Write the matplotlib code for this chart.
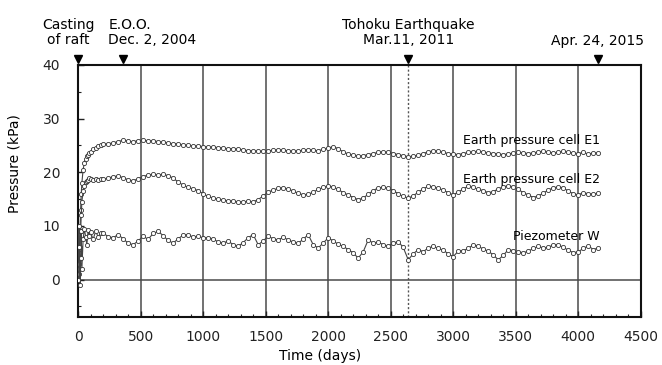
import matplotlib
matplotlib.use("Agg")
import matplotlib.pyplot as plt
import matplotlib.transforms as mtransforms
from matplotlib.ticker import MultipleLocator

plt.rcParams["font.family"] = ["DejaVu Sans"]

# elapsed days since casting of the raft
DAYS = [0, 5, 10, 15, 20, 25, 30, 40, 50, 60, 70, 80, 90, 100, 120, 140, 160, 180, 200,
        240, 280, 320, 360, 400, 440, 480, 520, 560, 600,
        640, 680, 720, 760, 800, 840, 880, 920, 960, 1000,
        1040, 1080, 1120, 1160, 1200, 1240, 1280, 1320, 1360, 1400,
        1440, 1480, 1520, 1560, 1600, 1640, 1680, 1720, 1760, 1800,
        1840, 1880, 1920, 1960, 2000, 2040, 2080, 2120, 2160, 2200,
        2240, 2280, 2320, 2360, 2400, 2440, 2480, 2520, 2560, 2600,
        2640, 2680, 2720, 2760, 2800, 2840, 2880, 2920, 2960, 3000,
        3040, 3080, 3120, 3160, 3200, 3240, 3280, 3320, 3360, 3400,
        3440, 3480, 3520, 3560, 3600, 3640, 3680, 3720, 3760, 3800,
        3840, 3880, 3920, 3960, 4000, 4040, 4080, 4120, 4160]

E1 = [0, 2, 5, 9, 13, 16, 18, 20.5, 21.8, 22.5, 23, 23.3, 23.6, 23.8, 24.3, 24.6, 24.9, 25.0, 25.2,
      25.3, 25.5, 25.7, 26.0, 25.8, 25.7, 25.9, 26.0, 25.8, 25.9,
      25.7, 25.6, 25.5, 25.3, 25.3, 25.1, 25.0, 24.9, 24.9, 24.8,
      24.7, 24.7, 24.6, 24.5, 24.4, 24.4, 24.3, 24.2, 24.0, 24.0,
      23.9, 23.9, 24.0, 24.1, 24.2, 24.1, 24.0, 23.9, 24.0, 24.1,
      24.2, 24.1, 24.0, 24.3, 24.5, 24.8, 24.4, 23.8, 23.4, 23.2,
      23.0, 23.1, 23.3, 23.5, 23.7, 23.8, 23.7, 23.5, 23.3, 23.1,
      22.9, 23.0, 23.2, 23.5, 23.8, 24.0, 23.9, 23.7, 23.5, 23.4,
      23.3, 23.5, 23.7, 23.8, 23.9, 23.8, 23.6, 23.5, 23.4, 23.3,
      23.4, 23.6, 23.7, 23.6, 23.5, 23.6, 23.8, 23.9, 23.8, 23.6,
      23.7, 23.9, 23.8, 23.6, 23.5, 23.7, 23.4, 23.6, 23.6]

E2 = [0, 1, 3, 6, 9, 12, 14.5, 16.5, 17.5, 18.2, 18.3, 18.6, 19.0, 18.8, 18.5, 18.7, 18.6, 18.8, 18.7,
      18.9, 19.2, 19.3, 19.0, 18.6, 18.4, 18.8, 19.2, 19.5, 19.6,
      19.5, 19.6, 19.4, 18.9, 18.2, 17.6, 17.2, 16.9, 16.6, 16.0,
      15.5, 15.2, 15.0, 14.8, 14.7, 14.6, 14.5, 14.5, 14.6, 14.5,
      14.9, 15.6, 16.3, 16.7, 17.0, 17.1, 16.9, 16.5, 16.1, 15.8,
      15.9, 16.3, 16.8, 17.2, 17.4, 17.3, 16.8, 16.2, 15.8, 15.3,
      14.9, 15.2, 15.9, 16.6, 17.1, 17.2, 17.0, 16.6, 16.0, 15.5,
      15.2, 15.6, 16.3, 16.9, 17.4, 17.3, 17.0, 16.7, 16.2, 15.8,
      16.3, 16.9, 17.4, 17.2, 16.8, 16.6, 16.2, 16.4, 16.9, 17.3,
      17.5, 17.3, 16.8, 16.2, 15.8, 15.3, 15.6, 16.1, 16.7, 17.1,
      17.3, 17.1, 16.5, 16.0, 15.8, 16.2, 16.0, 15.9, 16.1]

PIEZO_W = [0, 10.0, 6.0, -1.0, 4.0, 9.0, 2.0, 7.5, 9.5, 8.0, 6.5, 9.2, 8.2, 8.8, 7.5, 9.0, 8.0, 8.6, 8.7,
           8.0, 7.8, 8.4, 7.6, 6.8, 6.5, 7.2, 8.1, 7.5, 8.6,
           9.0, 8.2, 7.3, 6.8, 7.6, 8.3, 8.4, 7.9, 8.1, 7.8,
           7.8, 7.6, 7.0, 6.8, 7.2, 6.5, 6.2, 6.9, 7.8, 8.4,
           6.5, 7.2, 8.1, 7.6, 7.4, 7.9, 7.4, 7.0, 6.8, 7.5,
           8.4, 6.5, 5.9, 6.8, 7.8, 7.2, 6.6, 6.2, 5.6, 5.0,
           4.0, 5.2, 7.4, 6.8, 7.0, 6.5, 6.2, 6.8, 7.1, 6.0,
           3.7, 4.8, 5.6, 5.2, 5.9, 6.2, 5.8, 5.5, 4.8, 4.3,
           5.3, 5.4, 5.8, 6.5, 6.2, 5.7, 5.3, 4.6, 3.7, 4.5,
           5.6, 5.4, 5.2, 5.0, 5.3, 5.8, 6.2, 5.9, 6.0, 6.5,
           6.5, 6.0, 5.5, 5.0, 5.2, 5.8, 6.3, 5.6, 5.9]

SERIES = [("Earth pressure cell E1", E1, 26.0),
          ("Earth pressure cell E2", E2, 18.7),
          ("Piezometer W", PIEZO_W, 8.0)]

# events marked above the plot
EVENT_DAYS = [0, 360, 2640, 4157]
EVENT_LABELS = ["Casting\nof raft", "E.O.O.\nDec. 2, 2004",
                "Tohoku Earthquake\nMar.11, 2011", "Apr. 24, 2015"]
EARTHQUAKE_DAY = 2640

fig = plt.figure(figsize=(6.62, 3.65), dpi=100)
ax = fig.add_axes([0.118, 0.131, 0.850, 0.691])

grid_kw = dict(color="#4a4a4a", lw=1.1, zorder=1)
for d in range(500, 4500, 500):
    ax.axvline(d, **grid_kw)
ax.axhline(0, **grid_kw)
ax.axvline(EARTHQUAKE_DAY, color="#555555", lw=1.0, ls=(0, (1.5, 1.5)), zorder=1)

for name, vals, label_y in SERIES:
    ax.plot(DAYS, vals, color="#444444", lw=0.8, marker="o", markersize=3.0,
            markerfacecolor="white", markeredgecolor="#333333", markeredgewidth=0.6,
            zorder=3)
    ax.text(4170, label_y, name, ha="right", va="center", fontsize=9, zorder=4)

ax.set_xlim(0, 4500)
ax.set_ylim(-7, 40)
ax.xaxis.set_major_locator(MultipleLocator(500))
ax.xaxis.set_minor_locator(MultipleLocator(100))
ax.yaxis.set_major_locator(MultipleLocator(10))
ax.yaxis.set_minor_locator(MultipleLocator(5))
ax.tick_params(which="both", direction="in", labelsize=10, colors="#222222")
ax.tick_params(which="major", length=4, width=1)
ax.tick_params(which="minor", length=2.5, width=0.8)
ax.tick_params(axis="y", pad=13)
ax.tick_params(axis="x", pad=9)
for s in ax.spines.values():
    s.set_linewidth(1.5)
    s.set_color("#111111")

ax.set_xlabel("Time (days)", fontsize=10)
ax.xaxis.set_label_coords(0.43, -0.125)
ax.set_ylabel("Pressure (kPa)", fontsize=10)
ax.yaxis.set_label_coords(-0.1, 0.61)

trans = mtransforms.blended_transform_factory(ax.transData, ax.transAxes)
ax.plot(EVENT_DAYS, [1.022] * len(EVENT_DAYS), ls="none", marker="v", color="black",
        markersize=6, transform=trans, clip_on=False, zorder=5)
label_pos = [(-80, "center"), (240, "left"), (2640, "center"), (4150, "center")]
for (x, ha), text in zip(label_pos, EVENT_LABELS):
    y = 1.095 if "\n" not in text else 1.13
    ax.text(x, y, text, transform=trans, ha=ha, va="center", fontsize=10,
            linespacing=1.1, multialignment="center" if ha == "center" else "left")

fig.savefig("out.png", dpi=100)
